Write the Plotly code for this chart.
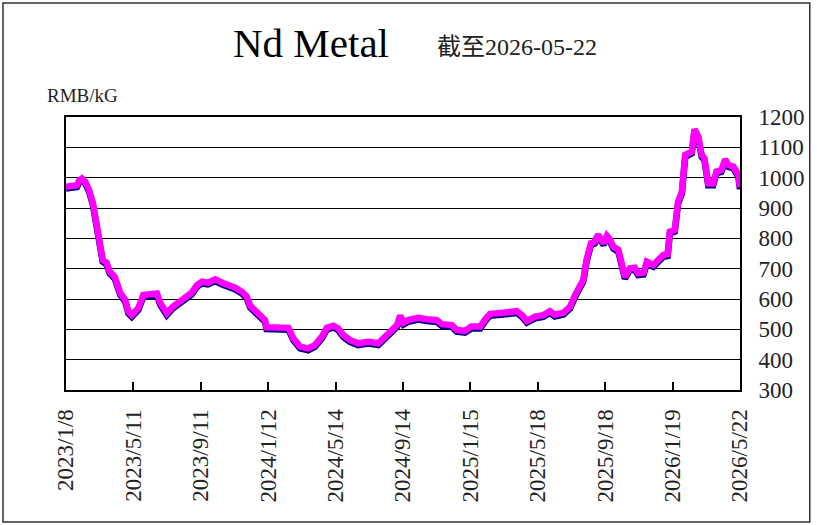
import plotly.graph_objects as go

dates = [
    "2023-01-08", "2023-01-15", "2023-01-28", "2023-02-01", "2023-02-06", "2023-02-12",
    "2023-02-19", "2023-02-26", "2023-03-05", "2023-03-11", "2023-03-16", "2023-03-23",
    "2023-03-29", "2023-04-07", "2023-04-17", "2023-04-26", "2023-05-02", "2023-05-08",
    "2023-05-20", "2023-05-29", "2023-06-23", "2023-06-29", "2023-07-11", "2023-07-22",
    "2023-08-04", "2023-08-16", "2023-08-25", "2023-09-04", "2023-09-13", "2023-09-24",
    "2023-10-07", "2023-10-22", "2023-11-03", "2023-11-12", "2023-11-25", "2023-12-04",
    "2023-12-10", "2023-12-25", "2024-01-06", "2024-01-09", "2024-02-18", "2024-02-27",
    "2024-03-10", "2024-03-25", "2024-04-06", "2024-04-19", "2024-04-28", "2024-05-10",
    "2024-05-19", "2024-05-28", "2024-06-09", "2024-06-24", "2024-07-13", "2024-07-31",
    "2024-08-09", "2024-08-24", "2024-09-03", "2024-09-09", "2024-09-15", "2024-09-24",
    "2024-10-12", "2024-10-27", "2024-11-15", "2024-11-24", "2024-12-12", "2024-12-21",
    "2025-01-05", "2025-01-17", "2025-02-02", "2025-02-11", "2025-02-20", "2025-03-16",
    "2025-04-10", "2025-04-19", "2025-04-28", "2025-05-13", "2025-05-28", "2025-06-09",
    "2025-06-18", "2025-07-04", "2025-07-16", "2025-07-25", "2025-08-03", "2025-08-09",
    "2025-08-15", "2025-08-23", "2025-08-30", "2025-09-05", "2025-09-15", "2025-09-21",
    "2025-09-27", "2025-10-03", "2025-10-12", "2025-10-18", "2025-10-24", "2025-11-02",
    "2025-11-11", "2025-11-17", "2025-11-27", "2025-12-03", "2025-12-15", "2025-12-24",
    "2026-01-02", "2026-01-10", "2026-01-14", "2026-01-23", "2026-01-29", "2026-02-05",
    "2026-02-11", "2026-02-23", "2026-02-28", "2026-03-07", "2026-03-13", "2026-03-18",
    "2026-03-25", "2026-04-03", "2026-04-09", "2026-04-18", "2026-04-25", "2026-05-01",
    "2026-05-10", "2026-05-19", "2026-05-22",
]

prices = [
    970, 972, 975, 990, 997, 987,
    960, 917, 850, 800, 729, 720,
    690, 673, 620, 597, 558, 547,
    570, 613, 618, 587, 553, 575,
    591, 603, 620, 646, 657, 654,
    665, 652, 646, 638, 624, 608,
    578, 553, 531, 507, 505, 470,
    443, 437, 448, 476, 505, 512,
    503, 481, 465, 454, 459, 454,
    470, 492, 514, 545, 522, 531,
    538, 533, 530, 517, 514, 498,
    495, 509, 509, 533, 551, 555,
    560, 547, 528, 542, 547, 560,
    548, 555, 575, 613, 641, 663,
    729, 784, 789, 812, 784, 808,
    795, 772, 762, 723, 673, 701,
    703, 685, 687, 723, 712, 729,
    745, 748, 822, 828, 921, 954,
    1075, 1086, 1160, 1135, 1075, 1064,
    981, 981, 1020, 1025, 1060, 1042,
    1036, 1009, 968,
]

tick_dates = ["2023-01-08", "2023-05-11", "2023-09-11", "2024-01-12", "2024-05-14",
              "2024-09-14", "2025-01-15", "2025-05-18", "2025-09-18", "2026-01-19",
              "2026-05-22"]
tick_labels = ["2023/1/8", "2023/5/11", "2023/9/11", "2024/1/12", "2024/5/14",
               "2024/9/14", "2025/1/15", "2025/5/18", "2025/9/18", "2026/1/19",
               "2026/5/22"]
y_ticks = [300, 400, 500, 600, 700, 800, 900, 1000, 1100, 1200]

title_text = "Nd Metal"
subtitle_text = "截至2026-05-22"
unit_text = "RMB/kG"

SERIF = "Liberation Serif, Noto Sans CJK SC, serif"

shadow = [p - 6 for p in prices]

fig = go.Figure()
fig.add_trace(go.Scatter(x=dates, y=shadow, mode="lines",
                         line=dict(color="#000080", width=6.5), hoverinfo="skip",
                         showlegend=False))
fig.add_trace(go.Scatter(x=dates, y=prices, mode="lines",
                         line=dict(color="#FF00FF", width=6.5), showlegend=False))

fig.update_layout(
    width=817, height=525,
    margin=dict(l=66, r=77, t=117, b=135),
    paper_bgcolor="white", plot_bgcolor="white",
    font=dict(family=SERIF, color="black", size=23),
    xaxis=dict(
        type="date", range=["2023-01-08", "2026-05-22"],
        tickmode="array", tickvals=tick_dates, ticktext=tick_labels,
        tickangle=-90, ticks="inside", ticklen=8, tickwidth=1.5, tickcolor="black",
        showgrid=False, showline=True, mirror=True, linecolor="black", linewidth=2,
        zeroline=False, tickfont=dict(family=SERIF, size=23, color="#222"),
        ticklabelstandoff=8,
    ),
    yaxis=dict(
        side="right", range=[300, 1200], tickmode="array", tickvals=y_ticks,
        ticks="", showgrid=True, gridcolor="black", gridwidth=1.3,
        showline=True, mirror=True, linecolor="black", linewidth=2,
        zeroline=False, tickfont=dict(family=SERIF, size=23, color="#222"),
        ticklabelstandoff=12,
    ),
    annotations=[
        dict(text=title_text, xref="paper", yref="paper", x=0.3635, y=1.271,
             xanchor="center", yanchor="middle", showarrow=False,
             font=dict(family=SERIF, size=41, color="black")),
        dict(text=subtitle_text, xref="paper", yref="paper", x=0.5475, y=1.256,
             xanchor="left", yanchor="middle", showarrow=False,
             font=dict(family=SERIF, size=24, color="#222")),
        dict(text=unit_text, xref="paper", yref="paper", x=-0.0312, y=1.077,
             xanchor="left", yanchor="middle", showarrow=False,
             font=dict(family=SERIF, size=19, color="#222")),
    ],
    shapes=[
        dict(type="rect", xref="paper", yref="paper", x0=-0.0935, x1=1.1035,
             y0=-0.4835, y1=1.4176, line=dict(color="#333", width=1.5),
             fillcolor="rgba(0,0,0,0)", layer="below"),
    ],
)

fig.write_html("out.html")
